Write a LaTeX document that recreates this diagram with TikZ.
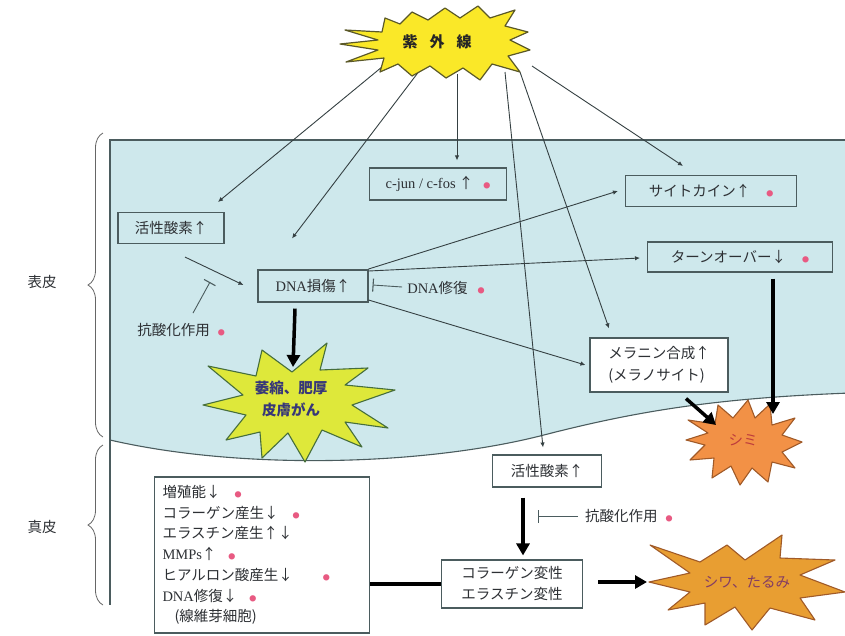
\documentclass[tikz,border=0pt]{standalone}
\usepackage{fontspec}
\setmainfont{Noto Sans CJK JP}
\newfontfamily\ser{Liberation Serif}
\usetikzlibrary{arrows.meta,calc,decorations.pathreplacing}
\definecolor{skin}{RGB}{206,232,236}
\definecolor{edge}{RGB}{75,92,94}
\definecolor{txt}{RGB}{45,48,52}
\definecolor{pinkd}{RGB}{232,90,130}
\definecolor{ylw}{RGB}{250,232,40}
\definecolor{ylwe}{RGB}{90,88,40}
\definecolor{ygreen}{RGB}{222,232,58}
\definecolor{ygreene}{RGB}{70,110,60}
\definecolor{orng}{RGB}{242,145,70}
\definecolor{orngе}{RGB}{160,90,40}
\definecolor{orge}{RGB}{160,90,40}
\definecolor{dorng}{RGB}{232,158,50}
\definecolor{navyt}{RGB}{55,55,120}
\definecolor{redt}{RGB}{190,60,60}
\definecolor{purt}{RGB}{130,60,100}
\newcommand\bx{\fontsize{14.5}{17}\selectfont}
\newcommand\pd{{\color{pinkd}\fontsize{7}{7}\selectfont ●}}
\begin{document}
\begin{tikzpicture}[x=1pt,y=-1pt,
  box/.style={draw=edge, line width=1.1pt, inner sep=0pt, align=center, font=\bx, text=txt},
  thin/.style={draw=edge!70!black, line width=0.9pt, -{Latex[length=5pt,width=4.5pt]}},
  thick/.style={draw=black, line width=3.5pt, -{Triangle[length=12pt,width=13pt]}},
  inh/.style={draw=edge, line width=0.9pt, -{Bar[width=13pt,line width=1.1pt]}},
  lbl/.style={inner sep=0pt, font=\bx, text=txt},
  brc/.style={draw=gray!80!black, line width=0.8pt, decorate, decoration={brace,amplitude=15pt}}]
\useasboundingbox (0,0) rectangle (845,635);
% epidermis region
\path[fill=skin] (110,140) -- (850,140) -- (850,393) .. controls (720,398) and (640,410) .. (540,436) .. controls (420,466) and (240,470) .. (110,440) -- cycle;
\draw[edge, line width=1.1pt] (850,140) -- (110,140) -- (110,605);
\draw[edge, line width=1.1pt] (850,393) .. controls (720,398) and (640,410) .. (540,436) .. controls (420,466) and (240,470) .. (110,440);
% braces and layer labels
\draw[brc] (103,437) -- (103,133);
\draw[brc] (103,605) -- (103,445);
\node[lbl] (epi) at (42,282) {表皮};
\node[lbl] (der) at (42,527) {真皮};
% UV source
\node[font=\bfseries\fontsize{15}{15}\selectfont, text=black!85, inner sep=0pt] (uv) at (437,42) {紫\hspace{12pt}外\hspace{12pt}線};
% boxes
\node[box, fill=skin, minimum width=106pt, minimum height=31pt] (ros1) at (171,228) {活性酸素↑};
\node[box, fill=skin, minimum width=137pt, minimum height=32pt] (cjun) at (438,184) {{\ser c-jun / c-fos} ↑\hspace{10pt}\pd};
\node[box, fill=skin, minimum width=110pt, minimum height=32pt] (dna) at (313,286) {{\ser DNA}損傷↑};
\node[box, fill=skin, minimum width=171pt, minimum height=31pt] (cyt) at (711,191) {サイトカイン↑\hspace{16pt}\pd};
\node[box, fill=skin, minimum width=185pt, minimum height=30pt] (turn) at (740,257) {ターンオーバー↓\hspace{16pt}\pd};
\node[box, fill=white, minimum width=138pt, minimum height=54pt, align=left, font=\fontsize{14.5}{22}\selectfont] (mel) at (659,365) {メラニン合成↑\\(メラノサイト)};
\node[box, fill=white, minimum width=109pt, minimum height=32pt] (ros2) at (547,471) {活性酸素↑};
\node[box, fill=white, minimum width=141pt, minimum height=48pt, font=\fontsize{14.5}{21}\selectfont] (col) at (512,584) {コラーゲン変性\\エラスチン変性};
\node[box, fill=white, text width=199pt, inner xsep=8pt, minimum height=156pt, align=left, font=\fontsize{14.5}{20.7}\selectfont] (lb) at (262,555) {増殖能↓\hspace{14pt}\pd\\
コラーゲン産生↓\hspace{14pt}\pd\\
エラスチン産生↑↓\\
{\ser MMPs}↑\hspace{12pt}\pd\\
ヒアルロン酸産生↓\hspace{30pt}\pd\\
{\ser DNA}修復↓\hspace{12pt}\pd\\
\hspace{12pt}(線維芽細胞)};
% free text labels
\node[lbl] (rep) at (446,288) {{\ser DNA}修復\hspace{10pt}\pd};
\node[lbl] (ao1) at (181,330) {抗酸化作用\hspace{8pt}\pd};
\node[lbl, anchor=west] (ao2) at (585,516) {抗酸化作用\hspace{8pt}\pd};
% UV arrows
\coordinate (u1) at ($(uv)+(-49,20)$);
\coordinate (u2) at ($(uv)+(-17,28)$);
\coordinate (u3) at ($(uv)+(20,32)$);
\coordinate (u4) at ($(uv)+(68,30)$);
\coordinate (u5) at ($(uv)+(83,30)$);
\coordinate (u6) at ($(uv)+(95,24)$);
\draw[thin] (u1) -- ($(ros1.north)+(47,-10)$);
\draw[thin] (u2) -- ($(dna.north)+(-21,-31)$);
\draw[thin] (u3) -- ($(cjun.north)+(19,-7)$);
\draw[thin] (u4) -- ($(ros2.north)+(-4,-7)$);
\draw[thin] (u5) -- ($(mel.north)+(-50,-9)$);
\draw[thin] (u6) -- ($(cyt.north)+(-28,-9)$);
% UV star
\draw[fill=ylw, draw=ylwe, line width=1.2pt, line join=round]
 (345,30) -- (382,32) -- (385,18) -- (400,24) -- (412,12) -- (428,20) -- (445,8) -- (460,18) -- (478,6) -- (490,18) -- (515,10) -- (505,26) -- (528,32) -- (510,40) -- (530,50) -- (508,56) -- (520,72) -- (492,64) -- (480,80) -- (463,68) -- (446,78) -- (430,66) -- (412,76) -- (398,64) -- (380,72) -- (384,58) -- (346,62) -- (378,50) -- (340,44) -- (378,40) -- cycle;
\node[font=\bfseries\fontsize{15}{15}\selectfont, text=black!85, inner sep=0pt] at (uv) {紫\hspace{12pt}外\hspace{12pt}線};
% DNA damage connections
\draw[thin] ($(ros1.south)+(14,13)$) -- ($(dna.west)+(-14,-1)$);
\draw[inh] ($(ao1.north)+(12,-10)$) -- ($(ao1.north)+(29,-41)$);
\draw[thin] ($(dna.east)+(0,-17)$) -- ($(cyt.west)+(-7,0)$);
\draw[thin] ($(dna.east)+(0,-15)$) -- ($(turn.west)+(-7,1)$);
\draw[thin] ($(dna.east)+(0,14)$) -- ($(mel.west)+(-4,0)$);
\draw[inh] ($(rep.west)+(-5,-1)$) -- ($(dna.east)+(4,-1)$);
% stars
\draw[fill=ygreen, draw=ygreene, line width=1.1pt, line join=round]
 (327,343) -- (320,370) -- (368,368) -- (345,385) -- (395,390) -- (352,405) -- (388,428) -- (345,422) -- (362,447) -- (322,430) -- (305,462) -- (288,433) -- (262,458) -- (260,432) -- (226,440) -- (246,415) -- (203,405) -- (243,395) -- (208,366) -- (256,376) -- (262,350) -- (292,372) -- cycle;
\node[font=\bfseries\fontsize{14.5}{22}\selectfont, text=navyt, align=center, inner sep=0pt] (atro) at (291,399) {萎縮、肥厚\\皮膚がん};
\draw[fill=orng, draw=orge, line width=1.1pt, line join=round]
 (688,420) -- (715,424) -- (718,405) -- (733,418) -- (748,400) -- (755,418) -- (770,404) -- (772,425) -- (795,418) -- (782,435) -- (802,442) -- (782,452) -- (795,468) -- (772,462) -- (768,482) -- (752,468) -- (740,485) -- (731,466) -- (712,478) -- (714,458) -- (690,460) -- (705,445) -- (686,440) -- (708,433) -- cycle;
\node[font=\fontsize{14.5}{15}\selectfont, text=redt, inner sep=0pt] (shimi) at (743,440) {シミ};
\draw[fill=dorng, draw=orge, line width=1.1pt, line join=round]
 (650,545) -- (700,562) -- (727,545) -- (745,560) -- (782,535) -- (780,558) -- (835,560) -- (800,575) -- (845,592) -- (800,598) -- (815,620) -- (770,608) -- (752,630) -- (735,607) -- (705,625) -- (705,603) -- (668,610) -- (690,592) -- (649,582) -- (690,573) -- cycle;
\node[font=\fontsize{14.5}{15}\selectfont, text=purt, inner sep=0pt] (shiwa) at (747,582) {シワ、たるみ};
% thick arrows
\coordinate (atroTop) at (293,367);
\coordinate (shimiTop) at (773,414);
\coordinate (shimiLeft) at (716,425);
\coordinate (shiwaLeft) at (647,582);
\draw[thick] ($(dna.south)+(-18,6)$) -- (atroTop);
\draw[thick] ($(turn.south)+(33,6)$) -- (shimiTop);
\draw[thick] ($(mel.south)+(27,6)$) -- (shimiLeft);
\draw[thick] ($(ros2.south)+(-24,10)$) -- ($(col.north)+(11,-4)$);
\draw[line width=3.5pt] (lb.east |- col.west) -- (col.west);
\draw[thick] ($(col.east)+(15,-2)$) -- (shiwaLeft |- {$(col.east)+(0,-2)$});
\draw[inh] ($(ao2.west)+(-7,0)$) -- ($(ao2.west)+(-47,0)$);
\end{tikzpicture}
\end{document}
